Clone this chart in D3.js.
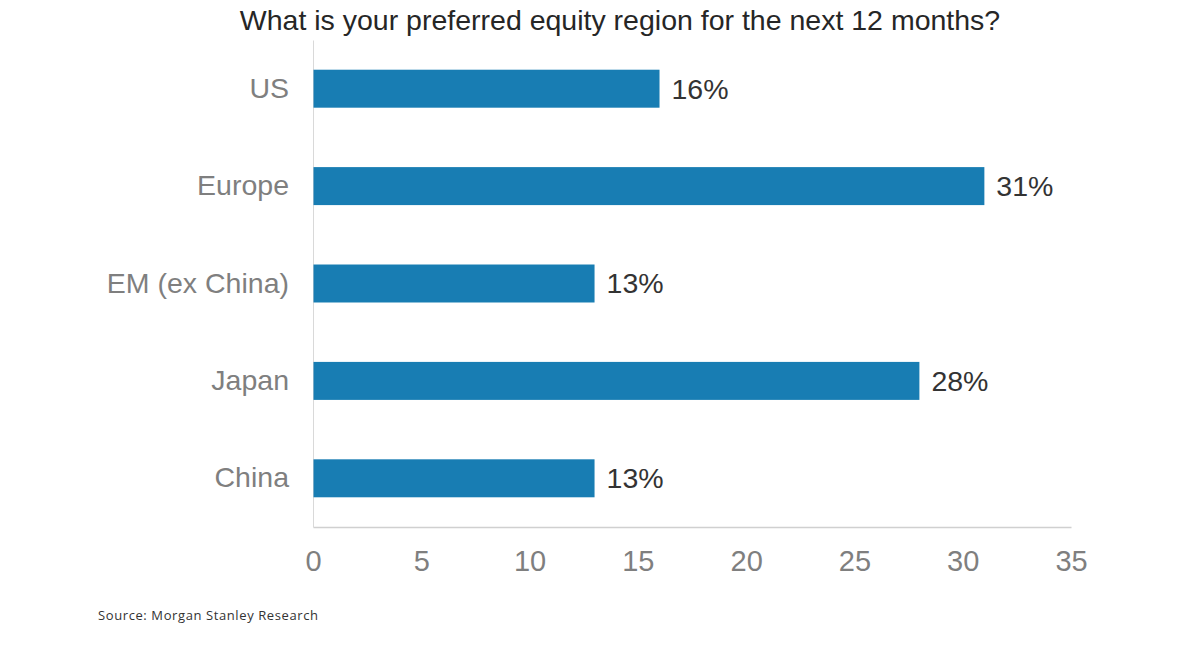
<!DOCTYPE html>
<html><head><meta charset="utf-8">
<script src="https://cdn.jsdelivr.net/npm/d3@7"></script>
<style>body{margin:0;background:#fff;}svg{display:block;}</style>
</head><body>
<svg id="c" width="1190" height="648"></svg>
<script>
const categories = ["US", "Europe", "EM (ex China)", "Japan", "China"];
const values = [16, 31, 13, 28, 13];
const xTicks = [0, 5, 10, 15, 20, 25, 30, 35];
const title = "What is your preferred equity region for the next 12 months?";
const source = "Source: Morgan Stanley Research";

(function () {
const svg = d3.select("#c");
const mLeft = 313, mRight = 1071, mTop = 40, mBottom = 527;
const x = d3.scaleLinear().domain([0, 35]).range([mLeft, mRight]);
const y = d3.scaleBand().domain(categories).range([mTop, mBottom]).paddingInner(0.61).paddingOuter(0.305);
const font = "Liberation Sans, Arial, sans-serif";

svg.append("text").attr("x", 620).attr("y", 30).attr("text-anchor", "middle")
  .attr("font-family", font).attr("font-size", 28.5).attr("fill", "#262626").text(title);

const xAxis = svg.append("g").attr("transform", `translate(0,${mBottom})`)
  .call(d3.axisBottom(x).tickValues(xTicks).tickSize(0).tickPadding(23));
xAxis.select(".domain").attr("stroke", "#d0d0d0").attr("stroke-width", 1.5);
xAxis.selectAll("text").attr("font-family", font).attr("font-size", 29).attr("fill", "#7f7f7f");

const yAxis = svg.append("g").attr("transform", `translate(${mLeft},0)`)
  .call(d3.axisLeft(y).tickSize(0).tickPadding(24));
yAxis.select(".domain").attr("stroke", "#d9d9d9").attr("stroke-width", 1);
yAxis.selectAll("text").attr("font-family", font).attr("font-size", 28.5).attr("fill", "#7f7f7f");

const data = categories.map((c, i) => ({c, v: values[i]}));
svg.selectAll("rect.bar").data(data).join("rect").attr("class", "bar")
  .attr("x", x(0) + 0.5).attr("y", d => y(d.c)).attr("height", y.bandwidth())
  .attr("width", d => x(d.v) - x(0) - 0.5).attr("fill", "#187db3");

svg.selectAll("text.val").data(data).join("text").attr("class", "val")
  .attr("x", d => x(d.v) + 12).attr("y", d => y(d.c) + y.bandwidth() / 2).attr("dy", "0.35em")
  .attr("font-family", font).attr("font-size", 28.5).attr("fill", "#333")
  .text(d => d.v + "%");

svg.append("text").attr("x", 98).attr("y", 620)
  .attr("font-family", "Open Sans, sans-serif").attr("font-size", 13).attr("letter-spacing", 0.6)
  .attr("fill", "#333").text(source);
})();
</script>
</body></html>
